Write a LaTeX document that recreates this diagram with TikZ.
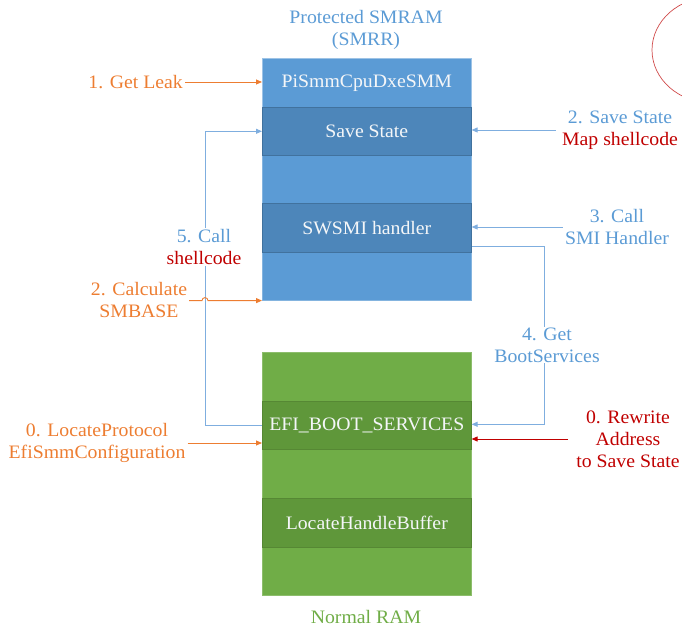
\documentclass[tikz,border=0pt]{standalone}
\usepackage{fontspec}
\setmainfont[FakeStretch=1.04]{Liberation Serif}
\usetikzlibrary{arrows.meta}
\definecolor{smblue}{HTML}{5B9BD5}
\definecolor{smdark}{HTML}{4D86BA}
\definecolor{smline}{HTML}{7FAEDF}
\definecolor{grn}{HTML}{70AD47}
\definecolor{grndark}{HTML}{5F973A}
\definecolor{org}{HTML}{ED7D31}
\definecolor{dred}{HTML}{C00000}
\definecolor{circ}{HTML}{D04A4A}
\definecolor{boxtxt}{HTML}{F4F6F8}
\begin{document}
\begin{tikzpicture}[x=1pt,y=-1pt,
  font=\fontsize{19}{22}\selectfont,
  block/.style={draw=#1, line width=0.6pt, inner sep=0pt, anchor=north west, minimum width=209pt},
  inbox/.style={draw=#1, line width=0.6pt, inner sep=0pt, anchor=north west, minimum width=209pt, text=boxtxt},
  lbl/.style={align=center, inner sep=2pt},
  tipstyle/.style={-{Triangle[length=6pt,width=5pt]}},
  barrow/.style={tipstyle, draw=smline, line width=0.9pt},
  oarrow/.style={tipstyle, draw=org, line width=0.9pt},
  rarrow/.style={tipstyle, draw=dred, line width=0.9pt}]
\useasboundingbox (0,0) rectangle (682,628);
\begin{scope}
  \clip (0,0) rectangle (682,628);
  \draw[circ, line width=0.7pt] (712,50) ellipse [x radius=60pt, y radius=53pt];
\end{scope}

% titles
\node[lbl, text=smblue] (title) at (366,30) {Protected SMRAM\\(SMRR)};
\node[lbl, text=grn] (normal) at (366,617) {Normal RAM};

% SMRAM block
\node[block=smblue!75!white, fill=smblue, minimum height=242pt] (smram) at (262,58) {};
\node[inbox=smblue!60!white, fill=smblue, minimum height=49pt] (pismm) at (262,58) {PiSmmCpuDxeSMM};
\node[inbox=smdark!85!black, fill=smdark, minimum height=48pt] (savestate) at (262,107) {Save State};
\node[inbox=smdark!85!black, fill=smdark, minimum height=49pt] (swsmi) at (262,203) {SWSMI handler};

% Normal RAM block
\node[block=grn!80!white, fill=grn, minimum height=243pt] (ram) at (262,352) {};
\node[inbox=grndark!90!black, fill=grndark, minimum height=48pt] (efi) at (262,401) {EFI\_BOOT\_SERVICES};
\node[inbox=grndark!90!black, fill=grndark, minimum height=49pt] (lhb) at (262,498) {LocateHandleBuffer};

% side labels
\node[lbl, text=org, anchor=east] (getleak) at (185,82) {1. Get Leak};
\node[lbl, text=org] (calc) at (139,300) {2. Calculate\\SMBASE};
\node[lbl, text=org] (locate) at (97,443) {0. LocateProtocol\\EfiSmmConfiguration};
\node[lbl, inner sep=6pt] (savest) at (620,130) {\textcolor{smblue}{2. Save State}\\\textcolor{dred}{Map shellcode}};
\node[lbl, text=smblue] (callsmi) at (617,227) {3. Call\\SMI Handler};
\node[lbl, text=dred, inner sep=8pt] (rewrite) at (628,439) {0. Rewrite\\Address\\to Save State};

\coordinate (lc) at (205,0);
\coordinate (rc) at (544,0);

% connectors
\draw[oarrow] (getleak.east) -- (getleak.east -| pismm.west);
\draw[barrow] (efi.west) -- (efi.west -| lc) |- (savestate.west);
\draw[oarrow] (calc.east |- smram.south) -- ([xshift=-3pt]lc |- smram.south)
  arc[start angle=180, end angle=0, radius=3pt] -- (smram.south west);
\draw[oarrow] (locate.east) -- (locate.east -| efi.west);
\draw[barrow] (savest.west) -- (savest.west -| savestate.east);
\draw[barrow] (callsmi.west) -- (callsmi.west -| swsmi.east);
\draw[barrow] ([yshift=6pt]swsmi.south east) -| ([yshift=1pt]efi.east -| rc) -- ([yshift=1pt]efi.east);
\draw[rarrow] (rewrite.west) -- (rewrite.west -| efi.east);

% labels sitting on connectors
\node[lbl, fill=white, inner sep=1pt] (callsc) at (204,247) {\textcolor{smblue}{5. Call}\\\textcolor{dred}{shellcode}};
\node[lbl, fill=white, text=smblue, inner sep=1pt] (getbs) at (547,345) {4. Get\\BootServices};
\end{tikzpicture}
\end{document}
